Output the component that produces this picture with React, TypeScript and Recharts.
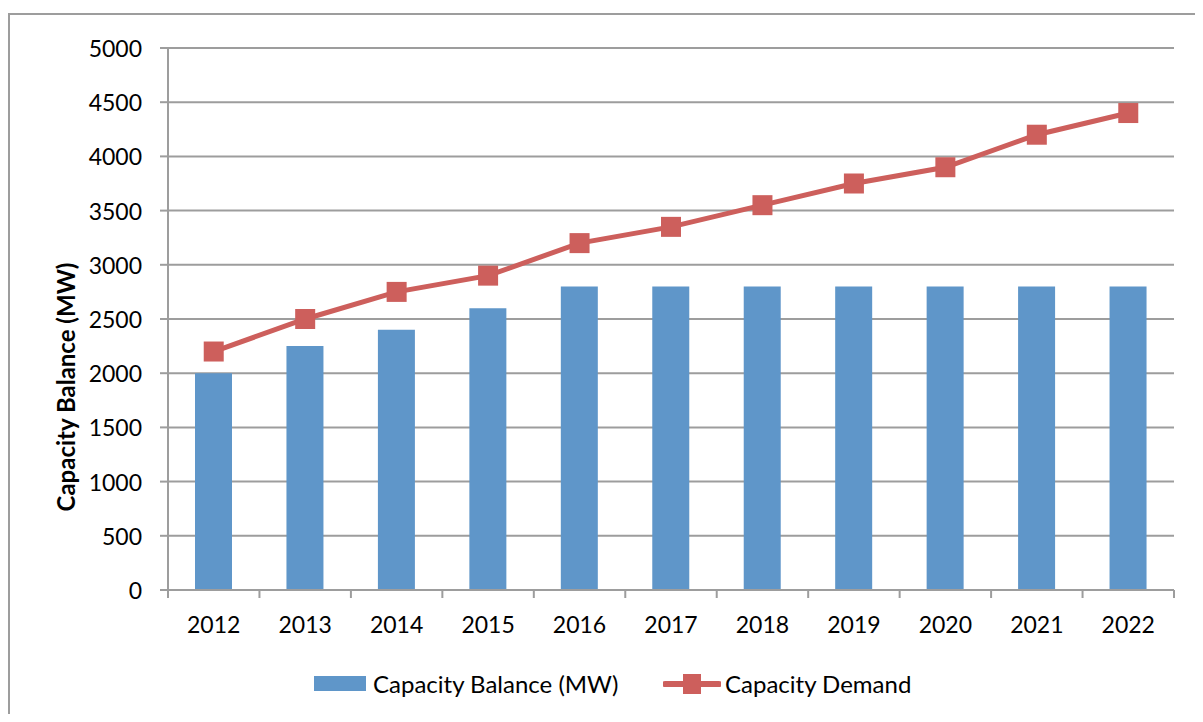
import React from 'react';
import { ComposedChart, Bar, Line, XAxis, YAxis, CartesianGrid, Legend } from 'recharts';

const years = ['2012', '2013', '2014', '2015', '2016', '2017', '2018', '2019', '2020', '2021', '2022'];
const capacityBalance = [2000, 2250, 2400, 2600, 2800, 2800, 2800, 2800, 2800, 2800, 2800];
const capacityDemand = [2200, 2500, 2750, 2900, 3200, 3350, 3550, 3750, 3900, 4200, 4400];
const yTicks = [0, 500, 1000, 1500, 2000, 2500, 3000, 3500, 4000, 4500, 5000];

const seriesNames = { balance: 'Capacity Balance (MW)', demand: 'Capacity Demand' };
const titleText = 'Figure 2-1: Generation Capacity Forecast, 2012-2022';
const yAxisTitle = 'Capacity Balance (MW)';

const data = years.map((year, i) => ({ year, balance: capacityBalance[i], demand: capacityDemand[i] }));

const W = 1187;
const H = 706;
const MARGIN = { top: 40, right: 21, left: 0, bottom: 10 };
const Y_AXIS_W = 160;
const PLOT_W = W - MARGIN.left - MARGIN.right - Y_AXIS_W;
const BAND = PLOT_W / years.length;

const FONT = 'Lato, "Open Sans", sans-serif';
const AXIS_COLOR = '#9d9d9d';
const BAR_COLOR = '#5f96c9';
const LINE_COLOR = '#cd5f5c';
const TICK_FS = 23;
const LEGEND_FS = 24;

const XTick = (props: any) => {
  const { x, y, payload, index } = props;
  const last = index === years.length - 1;
  return (
    <g>
      <line x1={x - BAND / 2} x2={x - BAND / 2} y1={y} y2={y + 8} stroke={AXIS_COLOR} strokeWidth={2} />
      {last && <line x1={x + BAND / 2} x2={x + BAND / 2} y1={y} y2={y + 8} stroke={AXIS_COLOR} strokeWidth={2} />}
      <text x={x} y={y + 34} textAnchor="middle" dominantBaseline="central" fontSize={TICK_FS} fill="#000" fontFamily={FONT}>
        {payload.value}
      </text>
    </g>
  );
};

const YTick = (props: any) => {
  const { x, y, payload } = props;
  return (
    <g>
      <line x1={x - 8} x2={x} y1={y} y2={y} stroke={AXIS_COLOR} strokeWidth={2} />
      <text x={x - 26} y={y} textAnchor="end" dominantBaseline="central" fontSize={TICK_FS} fill="#000" fontFamily={FONT}>
        {payload.value}
      </text>
    </g>
  );
};

const YLabel = () => (
  <text
    x={57}
    y={379}
    transform="rotate(-90 57 379)"
    textAnchor="middle"
    dominantBaseline="central"
    fontSize={LEGEND_FS}
    fontWeight={700}
    fill="#000"
    fontFamily={FONT}
  >
    {yAxisTitle}
  </text>
);

const SquareDot = (props: any) => {
  const { cx, cy, index } = props;
  if (cx == null || cy == null) return null;
  return <rect key={`d${index}`} x={cx - 10} y={cy - 10} width={20} height={20} fill={LINE_COLOR} />;
};

const LegendContent = () => (
  <div style={{ position: 'relative', height: 40, width: '100%', fontFamily: FONT, fontSize: LEGEND_FS, color: '#000' }}>
    <div style={{ position: 'absolute', left: 306, top: 12, width: 52, height: 15, background: BAR_COLOR }} />
    <div style={{ position: 'absolute', left: 365, top: 0, height: 40, lineHeight: '40px', whiteSpace: 'nowrap' }}>
      {seriesNames.balance}
    </div>
    <svg style={{ position: 'absolute', left: 655, top: 8 }} width={58} height={24}>
      <line x1={2} x2={56} y1={12} y2={12} stroke={LINE_COLOR} strokeWidth={6} strokeLinecap="round" />
      <rect x={20} y={2} width={18} height={20} fill={LINE_COLOR} />
    </svg>
    <div style={{ position: 'absolute', left: 717, top: 0, height: 40, lineHeight: '40px', whiteSpace: 'nowrap' }}>
      {seriesNames.demand}
    </div>
  </div>
);

export default function App() {
  return (
    <div style={{ position: 'relative', width: W, height: H }}>
      <style>{`html,body{overflow:hidden;}`}</style>
      <div
        style={{
          position: 'absolute',
          left: 0,
          width: W,
          top: -28,
          height: 30,
          textAlign: 'center',
          fontFamily: FONT,
          fontWeight: 700,
          fontSize: 23,
          lineHeight: '30px',
          whiteSpace: 'nowrap',
        }}
      >
        {titleText}
      </div>
      <div style={{ position: 'absolute', left: 0, top: 0, width: 1195, height: 714, overflow: 'hidden' }}>
        <div
          style={{
            position: 'absolute',
            left: 0,
            top: 5,
            width: 1300,
            height: 800,
            border: `2px solid ${AXIS_COLOR}`,
            boxSizing: 'border-box',
            background: '#fff',
          }}
        />
      </div>
      <div style={{ position: 'absolute', left: 0, top: 0 }}>
        <ComposedChart width={W} height={H} data={data} margin={MARGIN} style={{ fontFamily: FONT }}>
          <CartesianGrid vertical={false} stroke={AXIS_COLOR} strokeWidth={2} />
          <XAxis
            dataKey="year"
            height={74}
            interval={0}
            tickSize={0}
            tickMargin={0}
            tickLine={false}
            axisLine={{ stroke: AXIS_COLOR, strokeWidth: 2 }}
            tick={<XTick />}
          />
          <YAxis
            width={Y_AXIS_W}
            domain={[0, 5000]}
            ticks={yTicks}
            interval={0}
            tickSize={0}
            tickMargin={0}
            tickLine={false}
            axisLine={{ stroke: AXIS_COLOR, strokeWidth: 2 }}
            tick={<YTick />}
            label={{ content: () => <YLabel /> }}
          />
          <Legend verticalAlign="bottom" content={<LegendContent />} />
          <Bar dataKey="balance" name={seriesNames.balance} fill={BAR_COLOR} barSize={37} isAnimationActive={false} />
          <Line
            dataKey="demand"
            name={seriesNames.demand}
            stroke={LINE_COLOR}
            strokeWidth={5}
            dot={<SquareDot />}
            activeDot={false}
            isAnimationActive={false}
          />
        </ComposedChart>
      </div>
    </div>
  );
}
